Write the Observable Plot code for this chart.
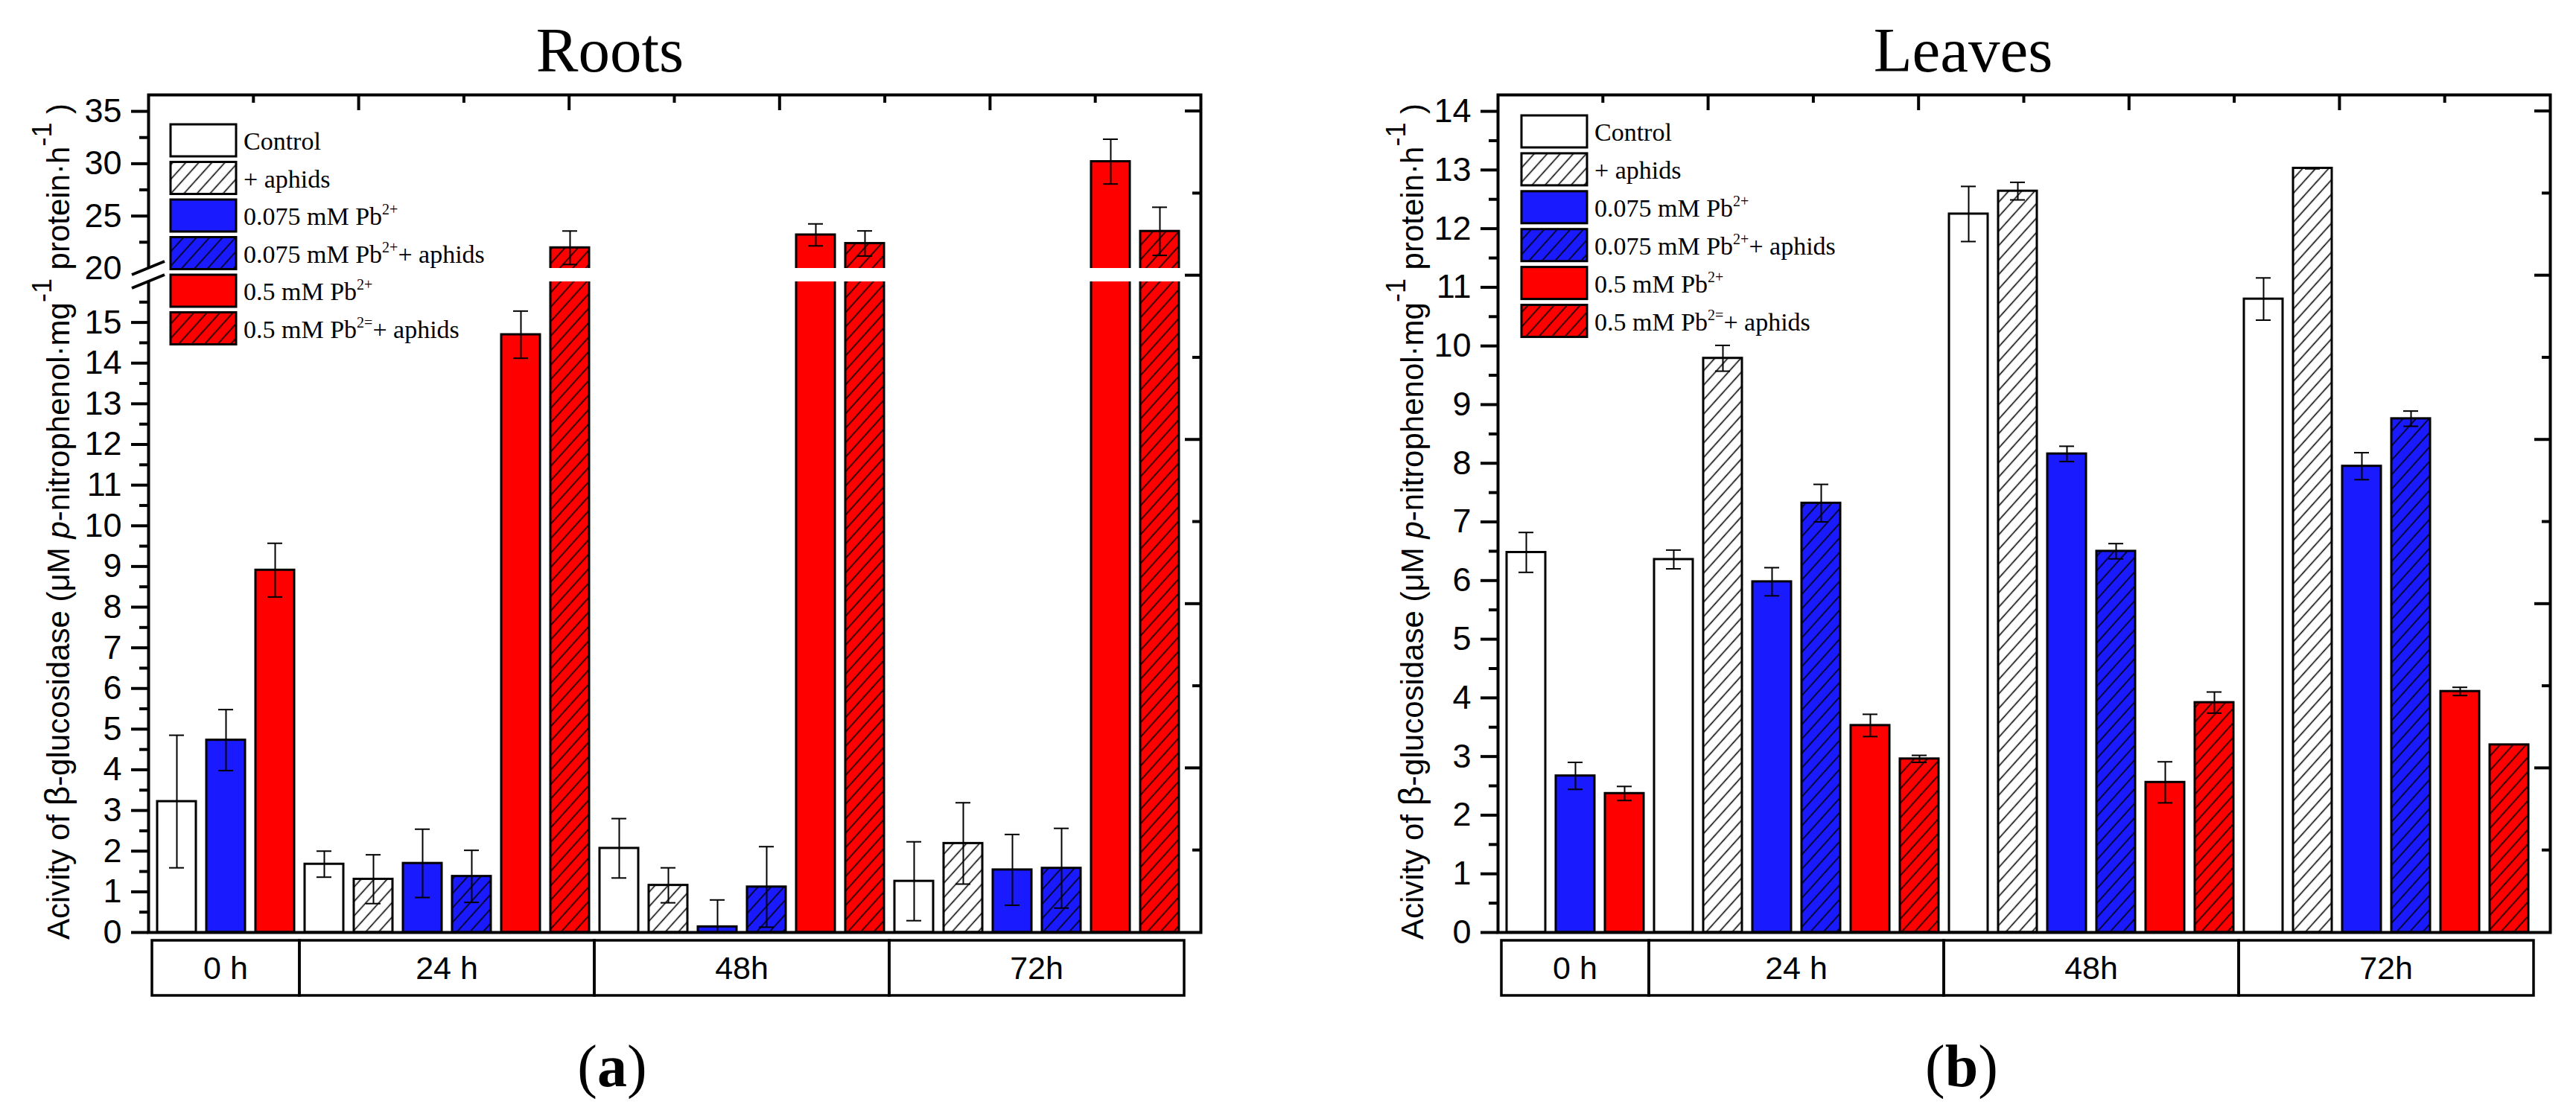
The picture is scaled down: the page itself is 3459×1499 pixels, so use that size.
<!DOCTYPE html>
<html>
<head>
<meta charset="utf-8">
<script src="https://cdn.jsdelivr.net/npm/d3@7"></script>
<script src="https://cdn.jsdelivr.net/npm/@observablehq/plot@0.6"></script>
<style>
  html, body { margin:0; padding:0; background:#fff; }
  #wrap { position:relative; width:3459px; height:1499px; overflow:hidden; background:#fff; }
  .panel { position:absolute; top:0; height:1499px; }
  .panel svg { overflow: visible; }
</style>
</head>
<body>
<div id="wrap">
  <div class="panel" id="roots" style="left:0;width:1730px"></div>
  <div class="panel" id="leaves" style="left:1730px;width:1729px"></div>
</div>
<script>
// ---------------- data ----------------
const slotTime = ["0 h","0 h","0 h",
  "24 h","24 h","24 h","24 h","24 h","24 h",
  "48h","48h","48h","48h","48h","48h",
  "72h","72h","72h","72h","72h","72h"];
// C = Control, A = + aphids, B = 0.075 mM Pb, BA = 0.075 mM Pb + aphids, R = 0.5 mM Pb, RA = 0.5 mM Pb + aphids
const slotTreatment = ["C","B","R",
  "C","A","B","BA","R","RA",
  "C","A","B","BA","R","RA",
  "C","A","B","BA","R","RA"];

const rootsMean = [3.22, 4.73, 8.91,
  1.68, 1.31, 1.70, 1.38, 14.70, 21.97,
  2.07, 1.16, 0.14, 1.12, 23.20, 22.38,
  1.26, 2.19, 1.54, 1.58, 30.20, 23.54];
const rootsSD = [1.63, 0.75, 0.66,
  0.32, 0.60, 0.84, 0.64, 0.58, 1.60,
  0.73, 0.43, 0.66, 0.99, 1.05, 1.20,
  0.97, 1.00, 0.87, 0.98, 2.14, 2.30];

const leavesMean = [6.48, 2.67, 2.37,
  6.36, 9.79, 5.98, 7.32, 3.53, 2.96,
  12.25, 12.64, 8.16, 6.50, 2.56, 3.92,
  10.80, 13.03, 7.95, 8.76, 4.11, 3.20];
const leavesSD = [0.34, 0.23, 0.12,
  0.16, 0.22, 0.24, 0.32, 0.19, 0.06,
  0.47, 0.15, 0.13, 0.13, 0.35, 0.18,
  0.36, 0.01, 0.23, 0.13, 0.07, 0.00];

const legendKeys = ["C","A","B","BA","R","RA"];
const legendText = ["Control","+ aphids","0.075 mM Pb","0.075 mM Pb","0.5 mM Pb","0.5 mM Pb"];
const legendSup  = ["","","2+","2+","2+","2="];
const legendTail = ["","","","+ aphids","","+ aphids"];

const rootsTicks = [0,1,2,3,4,5,6,7,8,9,10,11,12,13,14,15,25,30,35];
const rootsLabelOnly = [20];
const rootsMinor = [0.5,1.5,2.5,3.5,4.5,5.5,6.5,7.5,8.5,9.5,10.5,11.5,12.5,13.5,14.5,15.5,22.5,27.5,32.5];
const leavesTicks = [0,1,2,3,4,5,6,7,8,9,10,11,12,13,14];
const leavesMinor = [0.5,1.5,2.5,3.5,4.5,5.5,6.5,7.5,8.5,9.5,10.5,11.5,12.5,13.5];

// ---------------- styles ----------------
const BLUE = "#1a1aff", RED = "#ff0000";
const SERIF = "'Palatino Linotype','Book Antiqua',Palatino,'Liberation Serif','Times New Roman',serif";
const SANS = "'Liberation Sans',Arial,Helvetica,sans-serif";

function panel(o) {
  const data = slotTime.map((t, i) => ({key: t + "|" + slotTreatment[i] + "|" + i, time: t, trt: slotTreatment[i], v: o.mean[i], e: o.sd[i]}));
  const fills = {C: "white", A: `url(#hw-${o.id})`, B: BLUE, BA: `url(#hb-${o.id})`, R: RED, RA: `url(#hr-${o.id})`};
  const W = o.width, H = 1499, mL = o.marginLeft, mR = o.marginRight, mT = 127, mB = 247;
  const err = data.filter(d => d.e > 0);
  const marks = [
    Plot.barY(data, {x: "key", y: "v", fill: d => fills[d.trt], stroke: "black", strokeWidth: 3}),
    Plot.ruleX(err, {x: "key", y1: d => Math.max(0, d.v - d.e), y2: d => d.v + d.e, stroke: "black", strokeWidth: 2}),
    Plot.tickY(err, {x: "key", y: d => d.v + d.e, insetLeft: 16, insetRight: 16, stroke: "black", strokeWidth: 2}),
    Plot.tickY(err.filter(d => d.v - d.e >= 0), {x: "key", y: d => d.v - d.e, insetLeft: 16, insetRight: 16, stroke: "black", strokeWidth: 2}),
    Plot.axisY({ticks: o.ticks, tickSize: 23, tickPadding: 13, strokeWidth: 4, fontSize: 45, label: null, tickFormat: d => String(d)}),
    Plot.axisY({ticks: o.minor, tickSize: 12, strokeWidth: 4, label: null, tickFormat: () => ""}),
    Plot.frame({stroke: "black", strokeWidth: 4})
  ];
  if (o.labelOnly) marks.push(Plot.axisY({ticks: o.labelOnly, tickSize: 0, tickPadding: 36, fontSize: 45, label: null, tickFormat: d => String(d)}));
  const plot = Plot.plot({
    width: W, height: H, marginLeft: mL, marginRight: mR, marginTop: mT, marginBottom: mB,
    style: {fontFamily: SANS, fontSize: "45px", color: "black", background: "white", overflow: "visible"},
    x: {type: "band", domain: data.map(d => d.key), range: [mL, mL + o.bandTotal], paddingInner: 0.21, paddingOuter: 0.105, axis: null},
    y: o.y,
    color: {type: "identity"},
    marks
  });

  const svg = d3.select(plot);
  // hatch patterns
  const defs = svg.insert("defs", ":first-child");
  [["hw", "white"], ["hb", BLUE], ["hr", RED]].forEach(([k, c]) => {
    const p = defs.append("pattern").attr("id", `${k}-${o.id}`).attr("patternUnits", "userSpaceOnUse")
      .attr("width", 13).attr("height", 13).attr("patternTransform", "rotate(42)");
    p.append("rect").attr("width", 13).attr("height", 13).attr("fill", c);
    p.append("line").attr("x1", 6.5).attr("y1", -1).attr("x2", 6.5).attr("y2", 14).attr("stroke", "black").attr("stroke-width", 1.6);
  });

  const xs = plot.scale("x"), ys = plot.scale("y");
  const fx0 = mL, fx1 = W - mR, fy0 = mT, fy1 = H - mB;

  // axis break (roots)
  if (o.broken) {
    const yA = ys.apply(o.broken[1]), yB = ys.apply(o.broken[0]);
    svg.append("rect").attr("x", fx0 - 4).attr("y", yA).attr("width", (fx1 - 2.5) - (fx0 - 4)).attr("height", yB - yA).attr("fill", "white");
    [yA, yB].forEach(yy => {
      svg.append("line").attr("x1", fx0 - 22).attr("y1", yy + 9).attr("x2", fx0 + 22).attr("y2", yy - 9)
        .attr("stroke", "black").attr("stroke-width", 4);
    });
  }

  // opposite-axis ticks (top and right)
  const dec = svg.append("g").attr("stroke", "black").attr("stroke-width", 4);
  for (let k = 1; k <= 9; k++) {
    const x = fx0 + k * (fx1 - fx0) / 10, len = k % 2 === 0 ? 21 : 11;
    dec.append("line").attr("x1", x).attr("x2", x).attr("y1", fy0).attr("y2", fy0 + len);
  }
  const yTop = ys.apply(o.rightTop);
  for (let k = 1; k <= 10; k++) {
    const yy = fy1 + k * (yTop - fy1) / 10, len = k % 2 === 0 ? 21 : 11;
    dec.append("line").attr("x1", fx1).attr("x2", fx1 - len).attr("y1", yy).attr("y2", yy);
  }

  // category box
  const step = xs.step, bw = xs.bandwidth, half = (step - bw) / 2;
  const groups = Array.from(d3.group(data, d => d.time), ([t, arr]) => ({
    t, x0: xs.apply(arr[0].key) - half, x1: xs.apply(arr[arr.length - 1].key) + bw + half
  }));
  const box = svg.append("g");
  groups.forEach(gr => {
    box.append("rect").attr("x", gr.x0).attr("y", 1263).attr("width", gr.x1 - gr.x0).attr("height", 74)
      .attr("fill", "none").attr("stroke", "black").attr("stroke-width", 3.5);
    box.append("text").attr("x", (gr.x0 + gr.x1) / 2).attr("y", 1300).attr("dy", "0.35em")
      .attr("text-anchor", "middle").attr("font-family", SANS).attr("font-size", 43).attr("fill", "black").text(gr.t);
  });

  // title and panel letter
  svg.append("text").attr("x", o.titleX).attr("y", 96).attr("text-anchor", "middle")
    .attr("font-family", SERIF).attr("font-size", 85).attr("fill", "black").text(o.title);
  const lt = svg.append("text").attr("x", o.letterX).attr("y", 1459).attr("text-anchor", "middle")
    .attr("font-family", SERIF).attr("font-size", 80).attr("fill", "black");
  lt.append("tspan").text("(");
  lt.append("tspan").attr("font-weight", "bold").text(o.letter);
  lt.append("tspan").text(")");

  // y title
  const yt = svg.append("text").attr("transform", `translate(${o.ytitleX},${(fy0 + fy1) / 2 + 11}) rotate(-90)`)
    .attr("text-anchor", "middle").attr("font-family", SANS).attr("font-size", 42).attr("fill", "black");
  yt.append("tspan").text("Acivity of ");
  yt.append("tspan").attr("font-size", 46).text("β");
  yt.append("tspan").text("-glucosidase (μM ");
  yt.append("tspan").attr("font-style", "italic").text("p");
  yt.append("tspan").text("-nitrophenol·mg");
  yt.append("tspan").attr("dy", -24).attr("font-size", 36).text("-1");
  yt.append("tspan").attr("dy", 24).text(" protein·h");
  yt.append("tspan").attr("dy", -24).attr("font-size", 36).text("-1");
  yt.append("tspan").attr("dy", 24).text(" )");

  // legend
  const lg = svg.append("g").attr("text-anchor", "start");
  legendKeys.forEach((k, i) => {
    const top = o.legY + i * o.legPitch;
    lg.append("rect").attr("x", o.legX).attr("y", top).attr("width", 88).attr("height", 43)
      .attr("fill", fills[k]).attr("stroke", "black").attr("stroke-width", 3);
    const t = lg.append("text").attr("x", o.legX + 98).attr("y", top + 34).attr("text-anchor", "start")
      .attr("font-family", SERIF).attr("font-size", 34).attr("fill", "black");
    t.append("tspan").text(legendText[i]);
    if (legendSup[i]) {
      t.append("tspan").attr("dy", -14).attr("font-size", 20).text(legendSup[i]);
      t.append("tspan").attr("dy", 14).text(legendTail[i]);
    }
  });

  document.getElementById(o.id).appendChild(plot);
}

panel({
  id: "roots", width: 1730, marginLeft: 199, marginRight: 118, bandTotal: 1396,
  mean: rootsMean, sd: rootsSD,
  y: {type: "linear", domain: [0, 16, 20, 36.57], range: [1252, 378, 360, 127]},
  ticks: rootsTicks, labelOnly: rootsLabelOnly, minor: rootsMinor, broken: [16, 20], rightTop: 35,
  title: "Roots", titleX: 819, letter: "a", letterX: 822, ytitleX: 93,
  legX: 229, legY: 167, legPitch: 50.5
});
panel({
  id: "leaves", width: 1729, marginLeft: 281, marginRight: 35, bandTotal: 1396,
  mean: leavesMean, sd: leavesSD,
  y: {type: "linear", domain: [0, 14.28], range: [1252, 127]},
  ticks: leavesTicks, minor: leavesMinor, rightTop: 14,
  title: "Leaves", titleX: 906, letter: "b", letterX: 904, ytitleX: 181,
  legX: 313, legY: 155, legPitch: 50.9
});
</script>
</body>
</html>
